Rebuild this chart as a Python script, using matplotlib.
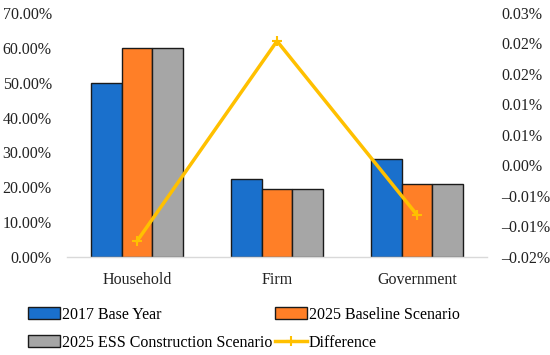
import matplotlib.pyplot as plt
import numpy as np
from decimal import Decimal, ROUND_HALF_UP
from matplotlib.ticker import FuncFormatter

# Data
categories = ["Household", "Firm", "Government"]
base_2017 = [50.0, 22.3, 28.0]
baseline_2025 = [60.0, 19.4, 20.9]
ess_2025 = [60.0, 19.4, 20.9]
difference = [-0.0124, 0.0204, -0.0081]

series_labels = ["2017 Base Year", "2025 Baseline Scenario",
                 "2025 ESS Construction Scenario", "Difference"]


def pct_fmt(val, pos):
    """
    Format tick values as percent with two decimals (Excel style rounding)
    """
    d = Decimal(str(round(val, 6))).quantize(Decimal("0.01"),
                                             rounding=ROUND_HALF_UP)
    if d == 0:
        d = abs(d)
    return f"{d}%".replace("-", "\u2013")


def main():
    plt.rcParams['font.family'] = ['Liberation Serif', 'DejaVu Serif']
    fig = plt.figure(figsize=(5.5, 3.55), dpi=100)
    ax = fig.add_axes([67 / 550, 98 / 355, 420 / 550, 244 / 355])

    x = np.arange(len(categories))
    width = 0.22
    colors = ["#1A70CC", "#FF7F27", "#A6A6A6"]
    values = [base_2017, baseline_2025, ess_2025]
    handles = []
    for i, (vals, col) in enumerate(zip(values, colors)):
        h = ax.bar(x + (i - 1) * width, vals, width, color=col,
                   edgecolor="#1a1a1a", linewidth=1.0,
                   label=series_labels[i], zorder=2)
        handles.append(h)

    ax.set_xlim(-0.5, 2.5)
    ax.set_ylim(0, 70)
    ax.set_yticks(np.arange(0, 71, 10))
    ax.yaxis.set_major_formatter(FuncFormatter(pct_fmt))
    ax.set_xticks(x)
    ax.set_xticklabels(categories)
    ax.tick_params(axis="both", length=0, labelsize=11.5, colors="#222222")
    ax.tick_params(axis="y", pad=11)
    ax.tick_params(axis="x", pad=11)
    for side in ["top", "right", "left"]:
        ax.spines[side].set_visible(False)
    ax.spines["bottom"].set_color("#d9d9d9")
    ax.spines["bottom"].set_linewidth(1.0)

    ax2 = ax.twinx()
    line, = ax2.plot(x, difference, color="#FFC000", linewidth=2.5,
                     marker="+", markersize=7, markeredgewidth=1.5,
                     label=series_labels[3], zorder=3)
    ax2.set_ylim(-0.015, 0.025)
    ax2.set_yticks(np.linspace(-0.015, 0.025, 9))
    ax2.yaxis.set_major_formatter(FuncFormatter(pct_fmt))
    ax2.tick_params(axis="y", length=0, labelsize=11.5, colors="#222222",
                    pad=10)
    for side in ["top", "right", "left", "bottom"]:
        ax2.spines[side].set_visible(False)

    # legend filled column-wise, so order entries to get row-wise layout
    order = [handles[0], handles[2], handles[1], line]
    labels = [series_labels[0], series_labels[2],
              series_labels[1], series_labels[3]]
    fig.legend(order, labels, loc="lower left",
               bbox_to_anchor=(20 / 550, -0.01), ncol=2, frameon=False,
               fontsize=11.5, handlelength=2.0, handletextpad=0.1,
               columnspacing=0.2, labelspacing=0.75,
               borderaxespad=0.1)

    fig.savefig("out.png", dpi=100)


if __name__ == '__main__':
    main()
